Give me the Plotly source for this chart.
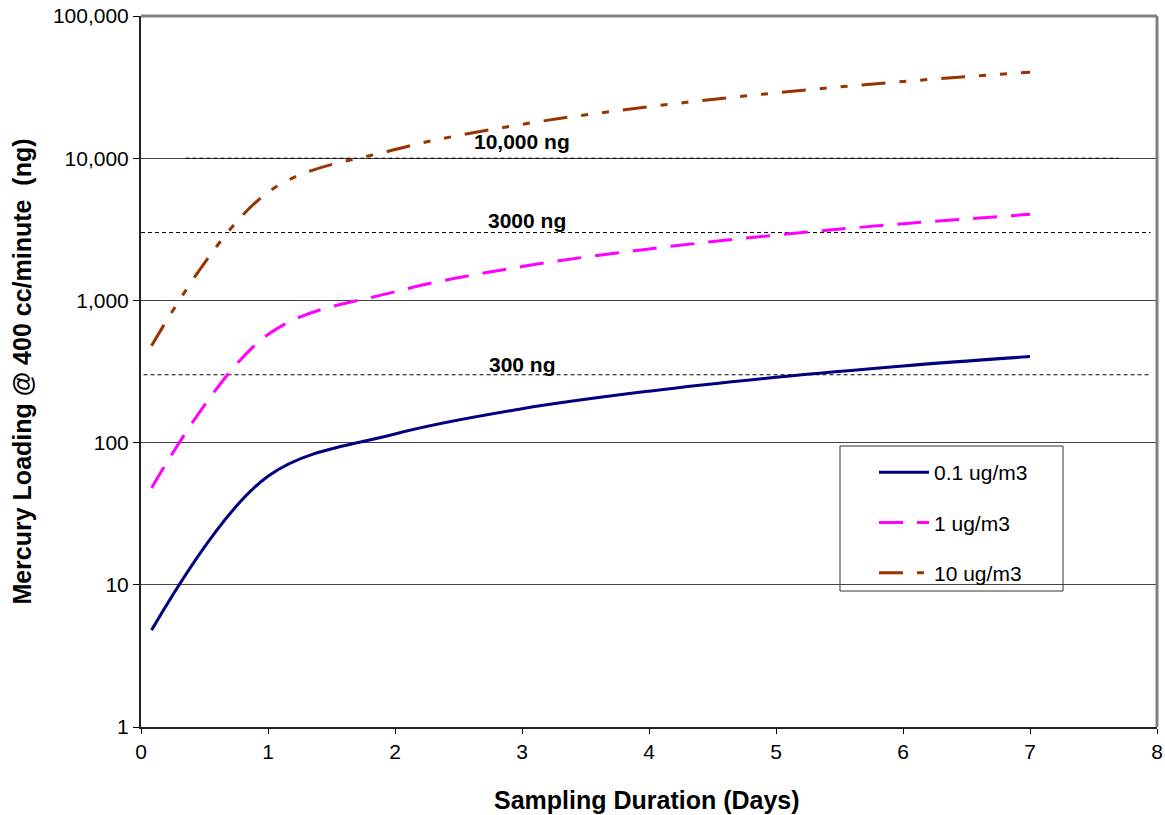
import numpy as np
import plotly.graph_objects as go

# ---- data ----
days = [0.083, 1, 2, 3, 4, 5, 6, 7]
load_01 = [4.8, 58, 115, 173, 230, 288, 346, 403]
load_1 = [48, 576, 1150, 1730, 2300, 2880, 3460, 4030]
load_10 = [480, 5760, 11500, 17300, 23000, 28800, 34600, 40300]
series_names = ["0.1 ug/m3", "1 ug/m3", "10 ug/m3"]

ref_levels = [10000, 3000, 300]
ref_labels = ["10,000 ng", "3000 ng", "300 ng"]
ref_x_start = [0.35, 0.0, 0.02]
ref_x_end = [7.7, 7.95, 7.95]
ref_label_x = [3.0, 3.04, 3.0]

y_tickvals = [1, 10, 100, 1000, 10000, 100000]
y_ticktext = ["1", "10", "100", "1,000", "10,000", "100,000"]
x_tickvals = [0, 1, 2, 3, 4, 5, 6, 7, 8]

FONT = "Liberation Sans, Arial, sans-serif"

fig = go.Figure()

# reference (dashed) levels
for lvl, xs, xe in zip(ref_levels, ref_x_start, ref_x_end):
    fig.add_trace(go.Scatter(x=[xs, xe], y=[lvl, lvl], mode="lines",
                             line=dict(color="black", width=1, dash="4px,3px"),
                             showlegend=False, hoverinfo="skip"))

styles = [
    dict(color="#000080", width=3, dash="solid"),
    dict(color="#FF00FF", width=3, dash="24px,14px"),
    dict(color="#993300", width=3, dash="24px,14px,7px,14px,7px,14px"),
]
for name, ys, st, grp in zip(series_names, [load_01, load_1, load_10], styles, ["a", "b", "c"]):
    fig.add_trace(go.Scatter(x=days, y=ys, mode="lines", name=name,
                             legendgroup=grp,
                             line=dict(shape="spline", smoothing=1.0, **st)))

# labels of reference levels
label_shift = [17, 12, 10]
for lvl, lab, lx, sh in zip(ref_levels, ref_labels, ref_label_x, label_shift):
    fig.add_annotation(x=lx, y=np.log10(lvl), xref="x", yref="y", text="<b>" + lab + "</b>",
                       showarrow=False, yshift=sh,
                       font=dict(family=FONT, size=21, color="black"))

# axis titles
fig.add_annotation(x=0.498, y=-0.103, xref="paper", yref="paper",
                   text="<b>Sampling Duration (Days)</b>", showarrow=False,
                   xanchor="center", yanchor="middle",
                   font=dict(family=FONT, size=25, color="black"))
fig.add_annotation(x=-0.118, y=0.50, xref="paper", yref="paper",
                   text="<b>Mercury Loading @ 400 cc/minute&nbsp; (ng)</b>", showarrow=False,
                   xanchor="center", yanchor="middle", textangle=-90,
                   font=dict(family=FONT, size=25, color="black"))

# plot-area frame (top/right grey) and legend box
fig.add_shape(type="line", xref="paper", yref="paper", x0=0, x1=1, y0=1, y1=1,
              line=dict(color="#808080", width=3))
fig.add_shape(type="line", xref="paper", yref="paper", x0=1, x1=1, y0=0, y1=1,
              line=dict(color="#808080", width=3))
fig.add_shape(type="rect", xref="paper", yref="paper",
              x0=(840 - 141) / 1016, x1=(1063 - 141) / 1016,
              y0=(727 - 591) / 711, y1=(727 - 446) / 711,
              line=dict(color="#333333", width=1), fillcolor="white", layer="below")

fig.update_layout(
    width=1165, height=815,
    margin=dict(l=141, r=8, t=16, b=88),
    paper_bgcolor="white", plot_bgcolor="rgba(0,0,0,0)",
    font=dict(family=FONT, size=21, color="black"),
    showlegend=True,
    legend=dict(x=(874 - 141) / 1016, y=(727 - 452) / 711, xanchor="left", yanchor="top",
                bgcolor="rgba(0,0,0,0)", borderwidth=0, tracegroupgap=20, itemwidth=50,
                font=dict(family=FONT, size=21, color="black")),
    xaxis=dict(range=[0, 8], tickvals=x_tickvals, ticks="outside", ticklen=5,
               tickcolor="black", showline=True, linecolor="#222222", linewidth=2,
               showgrid=False, zeroline=False, automargin=False,
               tickfont=dict(family=FONT, size=21, color="black")),
    yaxis=dict(type="log", range=[0, 5], tickvals=y_tickvals, ticktext=y_ticktext,
               ticks="outside", ticklen=6, tickcolor="black",
               showline=True, linecolor="#222222", linewidth=2,
               showgrid=True, gridcolor="#444444", gridwidth=1, zeroline=False,
               automargin=False,
               tickfont=dict(family=FONT, size=21, color="black")),
)

fig.write_html("out.html", config={"displayModeBar": False},
               post_script="document.body.style.margin='0px';")
